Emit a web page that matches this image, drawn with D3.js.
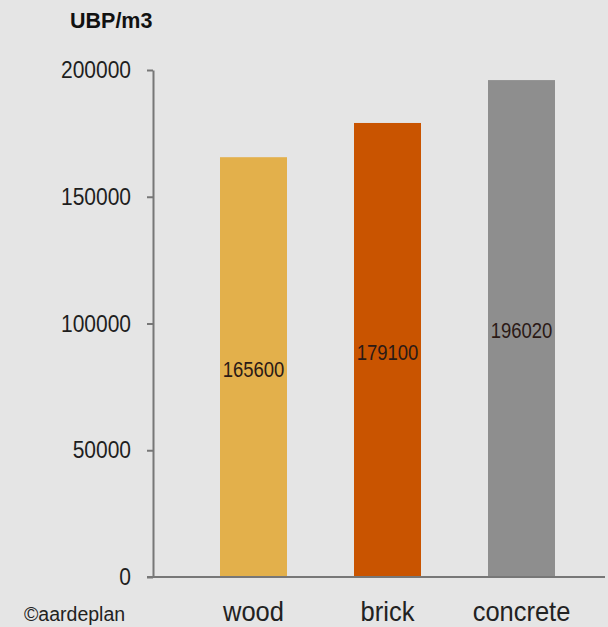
<!DOCTYPE html>
<html>
<head>
<meta charset="utf-8">
<script src="https://cdn.jsdelivr.net/npm/d3@7"></script>
<style>
  html, body { margin: 0; padding: 0; background: #e5e5e5; }
  svg { display: block; }
  text { font-family: "Liberation Sans", Arial, sans-serif; }
</style>
</head>
<body>
<svg id="chart" width="608" height="627"></svg>
<script>
// Environmental impact per cubic metre of building material
const categories = ["wood", "brick", "concrete"];
const values = [165600, 179100, 196020];
const barColors = ["#e3b04b", "#c95400", "#8e8e8e"];
const yTicks = [0, 50000, 100000, 150000, 200000];
const unitLabel = "UBP/m3";
const credit = "\u00a9aardeplan";

const svg = d3.select("#chart");
const W = 608, H = 627;

svg.append("rect").attr("width", W).attr("height", H).attr("fill", "#e5e5e5");

const x = d3.scaleBand()
  .domain(categories)
  .range([153, 622])
  .paddingInner(0.5)
  .paddingOuter(0.5);

const y = d3.scaleLinear()
  .domain([0, 200000])
  .range([577, 70]);

// Bars
svg.append("g").selectAll("rect")
  .data(categories)
  .join("rect")
  .attr("x", d => x(d))
  .attr("width", x.bandwidth())
  .attr("y", (d, i) => y(values[i]))
  .attr("height", (d, i) => y(0) - y(values[i]))
  .attr("fill", (d, i) => barColors[i]);

// Value labels in the middle of each bar
svg.append("g").selectAll("g")
  .data(categories)
  .join("g")
  .attr("transform", (d, i) => `translate(${x(d) + x.bandwidth() / 2},${(y(values[i]) + y(0)) / 2 + 2})`)
  .append("text")
  .attr("text-anchor", "middle")
  .attr("dy", "0.35em")
  .attr("transform", "scale(1,1.2)")
  .attr("font-size", 18.5)
  .attr("fill", "#2b1a16")
  .text((d, i) => values[i]);

// Y axis
const yAxis = svg.append("g")
  .attr("transform", "translate(153,0)")
  .call(d3.axisLeft(y).tickValues(yTicks).tickSize(6).tickSizeOuter(0).tickPadding(16).tickFormat(d3.format("d")));
yAxis.select(".domain").attr("stroke", "#777").attr("stroke-width", 2);
yAxis.selectAll(".tick line").attr("stroke", "#777").attr("stroke-width", 2);
yAxis.selectAll(".tick text")
  .attr("font-size", 21)
  .attr("fill", "#1e1e1e")
  .attr("transform", "scale(1,1.14)");

// Baseline
svg.append("line")
  .attr("x1", 147).attr("x2", 605)
  .attr("y1", y(0)).attr("y2", y(0))
  .attr("stroke", "#777").attr("stroke-width", 2);

// Category labels
svg.append("g").selectAll("g")
  .data(categories)
  .join("g")
  .attr("transform", d => `translate(${x(d) + x.bandwidth() / 2},621)`)
  .append("text")
  .attr("text-anchor", "middle")
  .attr("transform", "scale(1,1.08)")
  .attr("font-size", 25.5)
  .attr("fill", "#222")
  .text(d => d);

// Unit label
svg.append("text")
  .attr("x", 70).attr("y", 28)
  .attr("font-size", 21.5)
  .attr("font-weight", "bold")
  .attr("fill", "#111")
  .text(unitLabel);

// Credit
svg.append("text")
  .attr("x", 24).attr("y", 621)
  .attr("font-size", 19.5)
  .attr("fill", "#222")
  .text(credit);
</script>
</body>
</html>
